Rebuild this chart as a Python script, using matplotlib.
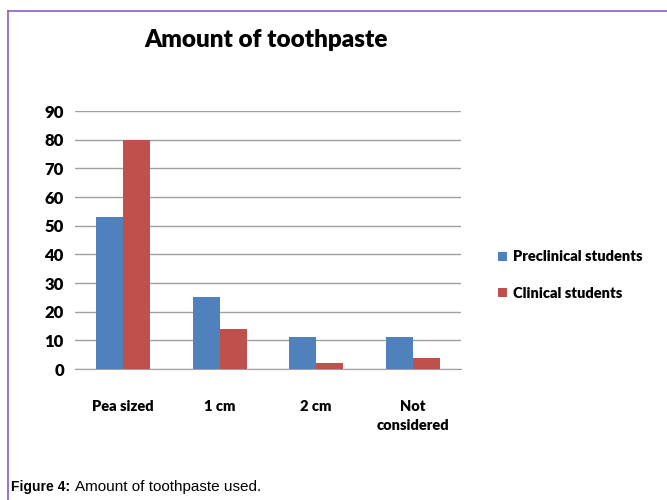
import matplotlib.pyplot as plt
import numpy as np
from matplotlib.lines import Line2D

categories = ["Pea sized", "1 cm", "2 cm", "Not\nconsidered"]
preclinical = [53, 25, 11, 11]
clinical = [80, 14, 2, 4]
yticks = [0, 10, 20, 30, 40, 50, 60, 70, 80, 90]

W, H = 667, 500
fig = plt.figure(figsize=(6.67, 5), dpi=100)
ax = fig.add_axes([75 / W, 1 - 369 / H, (461 - 75) / W, (369 - 111) / H])

x = np.arange(len(categories))
bw = 0.28
ax.bar(x - bw / 2, preclinical, bw, color="#4F81BD", label="Preclinical students", zorder=3)
ax.bar(x + bw / 2, clinical, bw, color="#C0504D", label="Clinical students", zorder=3)

ax.set_xlim(-0.5, len(categories) - 0.5)
ax.set_ylim(0, 90)
ax.set_yticks(yticks)
ax.yaxis.grid(True, color="#a0a0a0", linewidth=1, zorder=0)
for s in ["top", "right", "left"]:
    ax.spines[s].set_visible(False)
ax.spines["bottom"].set_color("#a0a0a0")
ax.tick_params(length=0)
ax.tick_params(axis="y", pad=8)
ax.tick_params(axis="x", pad=22)
ax.set_xticks(x)
ax.set_xticklabels(categories, family="Lato", fontweight="heavy", fontsize=10.5,
                   linespacing=1.55)
for t in ax.get_yticklabels():
    t.set_family("Lato")
    t.set_fontweight("heavy")
    t.set_fontsize(12)

fig.text(266 / W, 1 - 40 / H, "Amount of toothpaste", ha="center", va="center",
         family="Lato", fontweight="heavy", fontsize=17.5)

fig.legend(loc="center left", bbox_to_anchor=(485 / W, 1 - 275 / H), frameon=False,
           prop={"family": "Lato", "weight": "heavy", "size": 10.5},
           handlelength=0.6, handleheight=0.6, handletextpad=0.4, labelspacing=1.6)

fig.text(11 / W, 1 - 487 / H, "Figure 4:", family="Liberation Sans", fontweight="bold",
         fontsize=10, va="center")
fig.text(75 / W, 1 - 487 / H, "Amount of toothpaste used.", family="Liberation Sans",
         fontsize=11, va="center")

fig.add_artist(Line2D([8 / W, 8 / W], [0, 1 - 11 / H], color="#8a5cc8", linewidth=1.2))
fig.add_artist(Line2D([8 / W, 1], [1 - 11 / H, 1 - 11 / H], color="#8a5cc8", linewidth=1.2))

fig.savefig("out.png", dpi=100)
